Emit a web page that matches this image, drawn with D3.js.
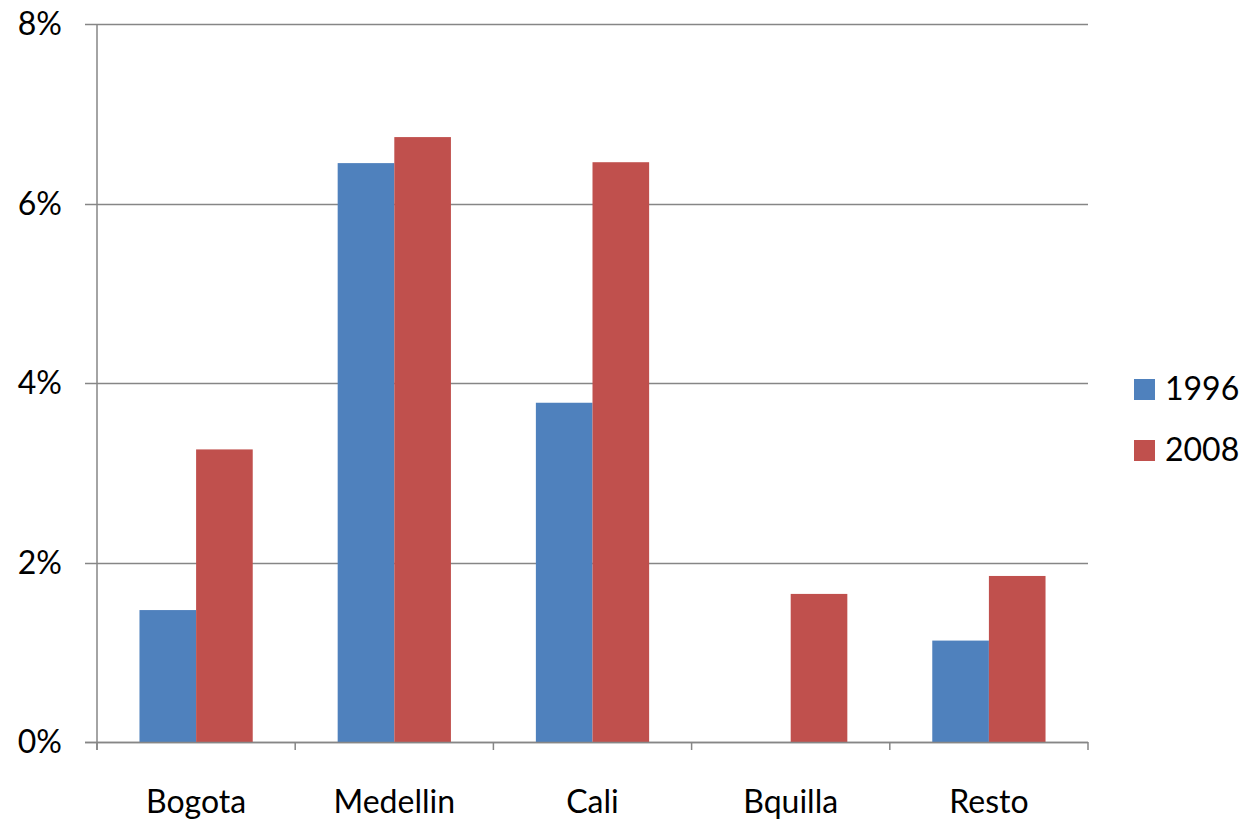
<!DOCTYPE html>
<html><head><meta charset="utf-8">
<script src="https://cdn.jsdelivr.net/npm/d3@7"></script>
<style>body{margin:0;background:#fff}text{font-family:Lato,"Open Sans",sans-serif;fill:#000}</style>
</head><body><svg id="c" width="1245" height="822"></svg>
<script>
const categories = ["Bogota","Medellin","Cali","Bquilla","Resto"];
const series = ["1996","2008"];
const values1996 = [1.47, 6.45, 3.78, 0, 1.13];
const values2008 = [3.26, 6.74, 6.46, 1.65, 1.85];
const yTicks = [0,2,4,6,8];
const colors = ["#4F81BD","#C0504D"];

const svg = d3.select("#c");
const L=97,R=1088,T=24,B=742;
const x = d3.scaleBand().domain(categories).range([L,R]).paddingInner(0).paddingOuter(0);
const y = d3.scaleLinear().domain([0,8]).range([B,T]);
const inner = d3.scaleBand().domain(series).range([0,x.bandwidth()]).paddingOuter(0.75).paddingInner(0);
const data = [values1996, values2008];

// gridlines
svg.append("g").selectAll("line").data(yTicks).join("line")
  .attr("x1",L-12).attr("x2",R).attr("y1",d=>Math.round(y(d))+0.5).attr("y2",d=>Math.round(y(d))+0.5)
  .attr("stroke","#868686").attr("stroke-width",1.5);
// bars
series.forEach((s,i)=>{
  svg.append("g").selectAll("rect").data(categories).join("rect")
    .attr("x",c=>x(c)+inner(s)).attr("width",inner.bandwidth())
    .attr("y",(c,j)=>y(data[i][j])).attr("height",(c,j)=>B-y(data[i][j]))
    .attr("fill",colors[i]);
});
// axes lines
svg.append("line").attr("x1",L).attr("x2",L).attr("y1",T).attr("y2",B+8).attr("stroke","#868686").attr("stroke-width",1.5);
svg.append("line").attr("x1",L-12).attr("x2",R).attr("y1",B+0.5).attr("y2",B+0.5).attr("stroke","#868686").attr("stroke-width",1.5);
svg.append("g").selectAll("line").data(categories.concat(["end"])).join("line")
  .attr("x1",(c,i)=>L+i*x.bandwidth()).attr("x2",(c,i)=>L+i*x.bandwidth())
  .attr("y1",B).attr("y2",B+8).attr("stroke","#868686").attr("stroke-width",1.5);
// y labels
svg.append("g").selectAll("text").data(yTicks).join("text")
  .attr("x",62).attr("y",d=>y(d)).attr("dy","0.35em").attr("text-anchor","end")
  .attr("font-size",32).text(d=>d+"%");
// x labels
svg.append("g").selectAll("text").data(categories).join("text")
  .attr("x",c=>x(c)+x.bandwidth()/2).attr("y",813).attr("text-anchor","middle")
  .attr("font-size",32).text(c=>c);
// legend
const lg = svg.append("g");
series.forEach((s,i)=>{
  lg.append("rect").attr("x",1134).attr("y",379+i*61).attr("width",21).attr("height",21).attr("fill",colors[i]);
  lg.append("text").attr("x",1165).attr("y",400+i*61).attr("font-size",32).text(s);
});
</script></body></html>
